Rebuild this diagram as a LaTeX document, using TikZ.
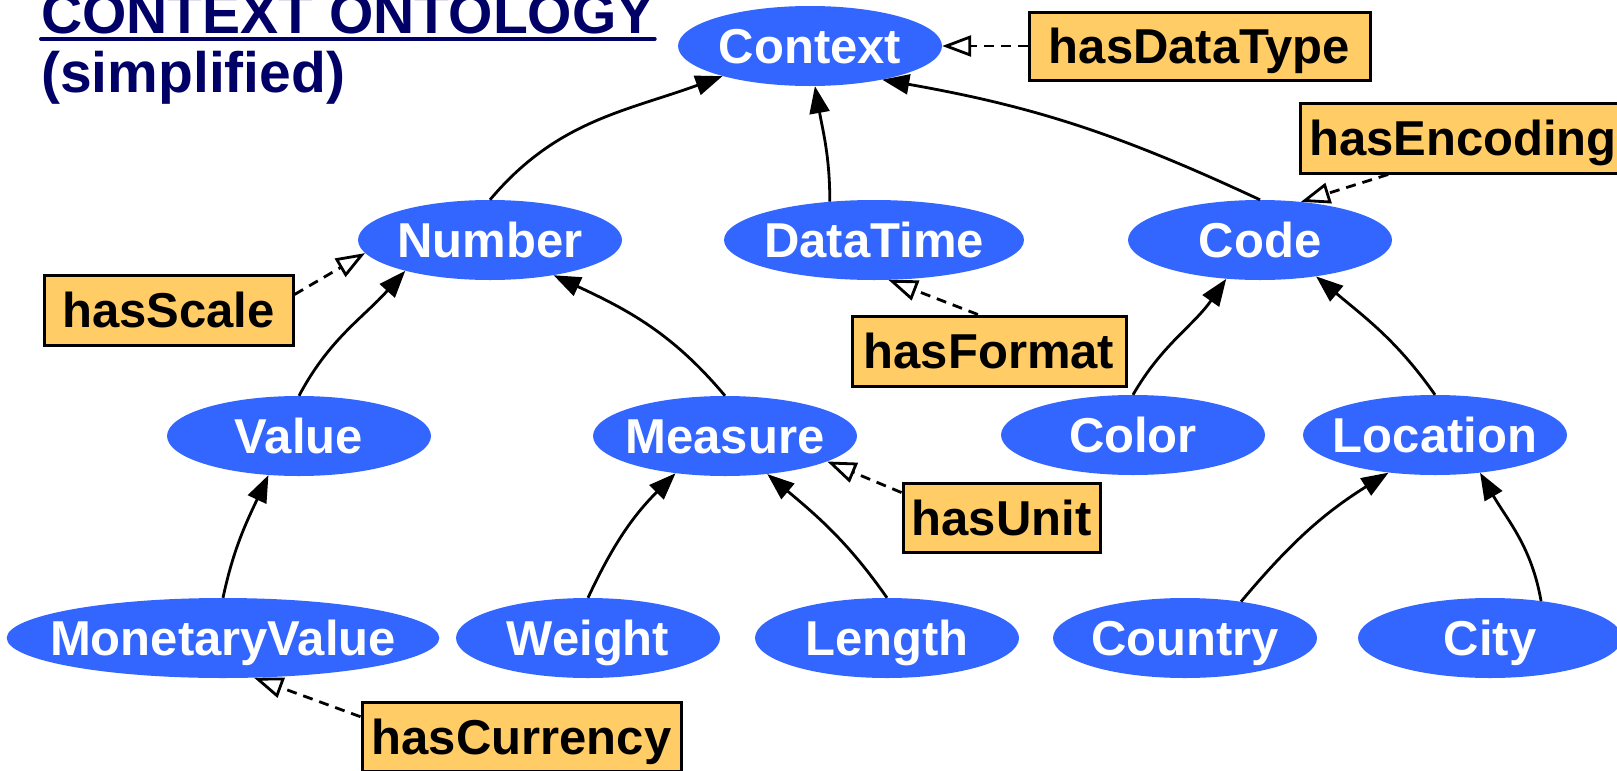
\documentclass[tikz,border=0pt]{standalone}
\usepackage{fontspec}
\setmainfont{Liberation Sans}
\usetikzlibrary{shapes.geometric, arrows.meta}
\definecolor{ellblue}{RGB}{51,102,255}
\definecolor{propfill}{RGB}{255,204,102}
\definecolor{titlenavy}{RGB}{0,0,102}

\begin{document}
\begin{tikzpicture}[x=1pt, y=1pt,
  bigfont/.style={font=\fontsize{49}{57}\selectfont\bfseries},
  cls/.style={ellipse, fill=ellblue, text=white, inner xsep=-20pt, inner ysep=0pt,
    minimum width=264, minimum height=80, bigfont, text height=35pt, text depth=0pt},
  prop/.style={rectangle, draw=black, line width=3pt, fill=propfill, inner sep=0pt,
    minimum height=69, bigfont, text height=35pt, text depth=0pt},
  isa/.style={line width=2.8pt, -{Triangle[length=27pt, width=20pt]}},
  attr/.style={line width=2.8pt, dash pattern=on 10pt off 7pt,
    -{Triangle[open, length=29pt, width=21pt, line width=2.8pt]}},
  titlefont/.style={font=\fontsize{57}{64}\selectfont\bfseries, text=titlenavy},
]
\useasboundingbox (0,0) rectangle (1617,-771);

% title
\node[titlefont, anchor=base west, inner sep=0pt] (title) at (41,-33) {CONTEXT ONTOLOGY};
\draw[titlenavy, line width=4pt, line cap=round]
  ([yshift=-6pt]title.base west) -- ([yshift=-6pt]title.base east);
\node[titlefont, anchor=base west, inner sep=0pt] (subtitle) at (41,-92) {(simplified)};

% classes
\node[cls] (Context) at (810,-46) {Context};
\node[cls] (Number) at (490,-240) {Number};
\node[cls, minimum width=300] (DataTime) at (874,-240) {DataTime};
\node[cls] (Code) at (1260,-240) {Code};
\node[cls] (Value) at (299,-436) {Value};
\node[cls] (Measure) at (725,-436) {Measure};
\node[cls] (Color) at (1133,-435) {Color};
\node[cls] (Location) at (1435,-435) {Location};
\node[cls, minimum width=422] (MonetaryValue) at (223,-638) {MonetaryValue};
\node[cls] (Weight) at (588,-638) {Weight};
\node[cls] (Length) at (887,-638) {Length};
\node[cls] (Country) at (1185,-638) {Country};
\node[cls] (City) at (1490,-638) {City};

% properties
\node[prop, minimum width=341, minimum height=68] (hasDataType) at (1199.5,-46) {hasDataType};
\node[prop, minimum width=326, minimum height=70] (hasEncoding) at (1463,-138) {hasEncoding};
\node[prop, minimum width=249, minimum height=70] (hasScale) at (168.5,-310) {hasScale};
\node[prop, minimum width=274, minimum height=70] (hasFormat) at (989,-351) {hasFormat};
\node[prop, minimum width=197] (hasUnit) at (1001.5,-517.5) {hasUnit};
\node[prop, minimum width=319] (hasCurrency) at (521.5,-736.5) {hasCurrency};

% subclass links
\draw[isa] (Number.north) to[out=50, in=200] (Context.199);
\draw[isa] (DataTime.139) to[out=90, in=-80] (Context.-83);
\draw[isa] (Code.north) to[out=155, in=-10] (Context.-25);
\draw[isa] (Value.north) to[out=62, in=228] (Number.200);
\draw[isa] (Measure.north) to[out=130, in=-25] (Number.-29);
\draw[isa] (MonetaryValue.north) to[out=78, in=245] (Value.232);
\draw[isa] (Weight.north) to[out=65, in=225] (Measure.217);
\draw[isa] (Length.north) to[out=125, in=-40] (Measure.-42);
\draw[isa] (Color.north) to[out=60, in=235] (Code.229);
\draw[isa] (Location.north) to[out=125, in=-40] (Code.-33);
\draw[isa] (Country.33) to[out=50, in=212] (Location.219);
\draw[isa] (City.36) to[out=100, in=-60] (Location.-40);

% property links
\draw[attr] (hasDataType.west) -- (Context.east);
\draw[attr] (hasEncoding.206.6) -- (Code.43);
\draw[attr] (hasScale.7.8) -- (Number.186);
\draw[attr] (hasFormat.107.5) -- (DataTime.-70);
\draw[attr] (hasUnit.166) -- (Measure.-14);
\draw[attr] (hasCurrency.173.7) -- (MonetaryValue.-52);
\end{tikzpicture}
\end{document}
